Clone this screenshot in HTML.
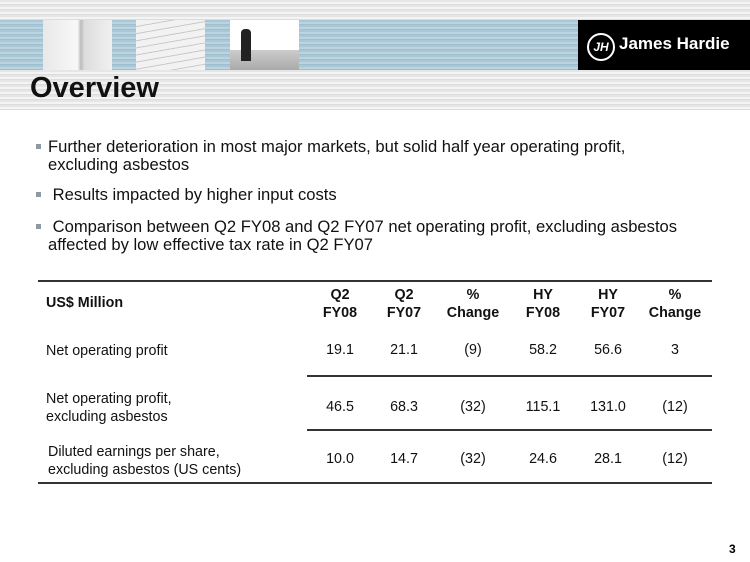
<!DOCTYPE html>
<html><head><style>
body{margin:0;width:750px;height:562px;background:#fff;position:relative;overflow:hidden;font-family:"Liberation Sans",sans-serif;}
.a{position:absolute;}
.hdr{left:0;top:0;width:750px;height:110px;background:repeating-linear-gradient(180deg,#e6e6e6 0 2px,#f4f4f4 2px 4px,#dcdcdc 4px 5px);}
.band{left:0;top:20px;width:750px;height:50px;background:repeating-linear-gradient(180deg,#a9c7d6 0 2px,#bcd4e0 2px 4px,#9fbfcf 4px 5px);}
.ph{top:20px;height:50px;width:69px;}
.c{position:absolute;text-align:center;font-size:14.3px;color:#111;}
.b{font-size:16.6px;color:#111;line-height:18px;}
.sq{position:absolute;left:-12px;top:6px;width:5px;height:5px;background:#8a9aa6;}
.line{position:absolute;height:1.5px;background:#333;}
.t{position:absolute;font-size:14.3px;color:#111;line-height:18px;}
</style></head><body>
<div class="a hdr"></div>
<div class="a band"></div>
<div class="a ph" style="left:43px;background:linear-gradient(90deg,#e8e8e8,#f8f8f8 50%,#bbb 55%,#ddd 60%,#f0f0f0);"></div>
<div class="a ph" style="left:136px;background:repeating-linear-gradient(170deg,#f2f2f2 0 6px,#c9c9c9 6px 7px);"></div>
<div class="a ph" style="left:230px;background:linear-gradient(180deg,#fff 0 60%,#ccc 60%,#aaa);"></div>
<div class="a" style="left:241px;top:29px;width:10px;height:32px;background:#222;border-radius:4px 4px 0 0;"></div>
<div class="a" style="left:578px;top:20px;width:172px;height:50px;background:#000;"></div>
<div class="a" style="left:587px;top:33px;width:24px;height:24px;border:2px solid #fff;border-radius:50%;color:#fff;font-size:12px;font-weight:bold;text-align:center;line-height:24px;font-style:italic;">JH</div>
<div class="a" style="left:619px;top:34px;color:#fff;font-weight:bold;font-size:17px;">James Hardie</div>
<div class="a" style="left:30px;top:72px;font-size:29px;font-weight:bold;color:#111;">Overview</div>

<div class="a b" style="left:48px;top:138px;width:640px;"><div class="sq"></div>Further deterioration in most major markets, but solid half year operating profit, excluding asbestos</div>
<div class="a b" style="left:48px;top:186px;"><div class="sq"></div>&nbsp;Results impacted by higher input costs</div>
<div class="a b" style="left:48px;top:218px;width:690px;"><div class="sq"></div>&nbsp;Comparison between Q2 FY08 and Q2 FY07 net operating profit, excluding asbestos affected by low effective tax rate in Q2 FY07</div>

<div class="line" style="left:38px;top:280px;width:674px;"></div>
<div class="line" style="left:307px;top:375px;width:405px;"></div>
<div class="line" style="left:307px;top:429px;width:405px;"></div>
<div class="line" style="left:38px;top:482px;width:674px;"></div>

<div class="t" style="left:46px;top:294px;font-weight:bold;">US$ Million</div>
<div class="c" style="left:310px;width:60px;top:286px;font-weight:bold;line-height:18px;">Q2<br>FY08</div>
<div class="c" style="left:374px;width:60px;top:286px;font-weight:bold;line-height:18px;">Q2<br>FY07</div>
<div class="c" style="left:443px;width:60px;top:286px;font-weight:bold;line-height:18px;">%<br>Change</div>
<div class="c" style="left:513px;width:60px;top:286px;font-weight:bold;line-height:18px;">HY<br>FY08</div>
<div class="c" style="left:578px;width:60px;top:286px;font-weight:bold;line-height:18px;">HY<br>FY07</div>
<div class="c" style="left:645px;width:60px;top:286px;font-weight:bold;line-height:18px;">%<br>Change</div>

<div class="t" style="left:46px;top:342px;">Net operating profit</div>
<div class="c" style="left:310px;width:60px;top:342px;">19.1</div>
<div class="c" style="left:374px;width:60px;top:342px;">21.1</div>
<div class="c" style="left:443px;width:60px;top:342px;">(9)</div>
<div class="c" style="left:513px;width:60px;top:342px;">58.2</div>
<div class="c" style="left:578px;width:60px;top:342px;">56.6</div>
<div class="c" style="left:645px;width:60px;top:342px;">3</div>

<div class="t" style="left:46px;top:390px;">Net operating profit,<br>excluding asbestos</div>
<div class="c" style="left:310px;width:60px;top:399px;">46.5</div>
<div class="c" style="left:374px;width:60px;top:399px;">68.3</div>
<div class="c" style="left:443px;width:60px;top:399px;">(32)</div>
<div class="c" style="left:513px;width:60px;top:399px;">115.1</div>
<div class="c" style="left:578px;width:60px;top:399px;">131.0</div>
<div class="c" style="left:645px;width:60px;top:399px;">(12)</div>

<div class="t" style="left:48px;top:443px;">Diluted earnings per share,<br>excluding asbestos (US cents)</div>
<div class="c" style="left:310px;width:60px;top:451px;">10.0</div>
<div class="c" style="left:374px;width:60px;top:451px;">14.7</div>
<div class="c" style="left:443px;width:60px;top:451px;">(32)</div>
<div class="c" style="left:513px;width:60px;top:451px;">24.6</div>
<div class="c" style="left:578px;width:60px;top:451px;">28.1</div>
<div class="c" style="left:645px;width:60px;top:451px;">(12)</div>

<div class="a" style="left:729px;top:542px;font-size:12px;font-weight:bold;">3</div>
</body></html>
